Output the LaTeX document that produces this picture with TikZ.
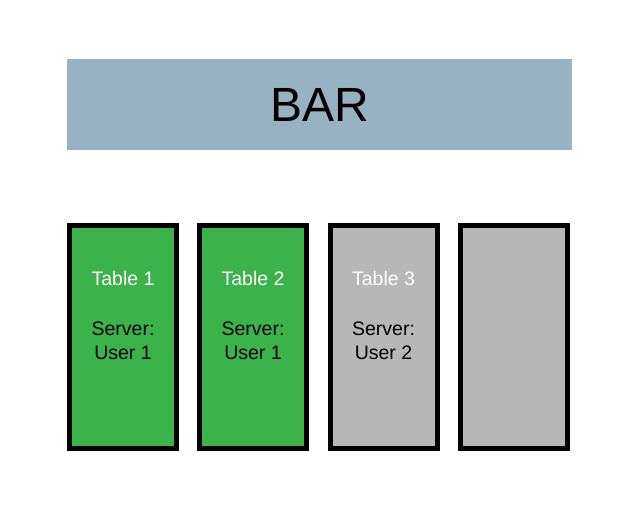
\documentclass[tikz,border=0pt]{standalone}
\usepackage{fontspec}
\setmainfont{Liberation Sans}
\definecolor{barblue}{HTML}{97B3C3}
\definecolor{tgreen}{HTML}{3BB34A}
\definecolor{tgray}{HTML}{B7B7B7}
\tikzset{
  tablebox/.style={draw=black,line width=5pt,minimum width=107pt,minimum height=223pt,inner sep=0pt},
  tabtitle/.style={text=white,font=\fontsize{19.5}{24}\selectfont},
  tabinfo/.style={align=center,font=\fontsize{19.5}{24}\selectfont}
}
\begin{document}
\begin{tikzpicture}[x=1pt,y=-1pt]
            \useasboundingbox (0,0) rectangle (640,514);
            \node[fill=barblue,minimum width=505pt,minimum height=91pt,inner sep=0pt,font=\fontsize{48}{54}\selectfont] (bar) at (319.5,104.5) {BAR};

            \node[tablebox,fill=tgreen] (t1) at (123,337) {};
            \node[tablebox,fill=tgreen] (t2) at (253,337) {};
            \node[tablebox,fill=tgray] (t3) at (383.5,337) {};
            \node[tablebox,fill=tgray] (t4) at (514,337) {};

            \node[tabtitle] (t1title) at (123,279) {Table 1};
            \node[tabinfo] (t1info) at (123,341) {Server:\\User 1};
            \node[tabtitle] (t2title) at (253,279) {Table 2};
            \node[tabinfo] (t2info) at (253,341) {Server:\\User 1};
            \node[tabtitle] (t3title) at (383.5,279) {Table 3};
            \node[tabinfo] (t3info) at (383.5,341) {Server:\\User 2};

        \end{tikzpicture}
\end{document}
